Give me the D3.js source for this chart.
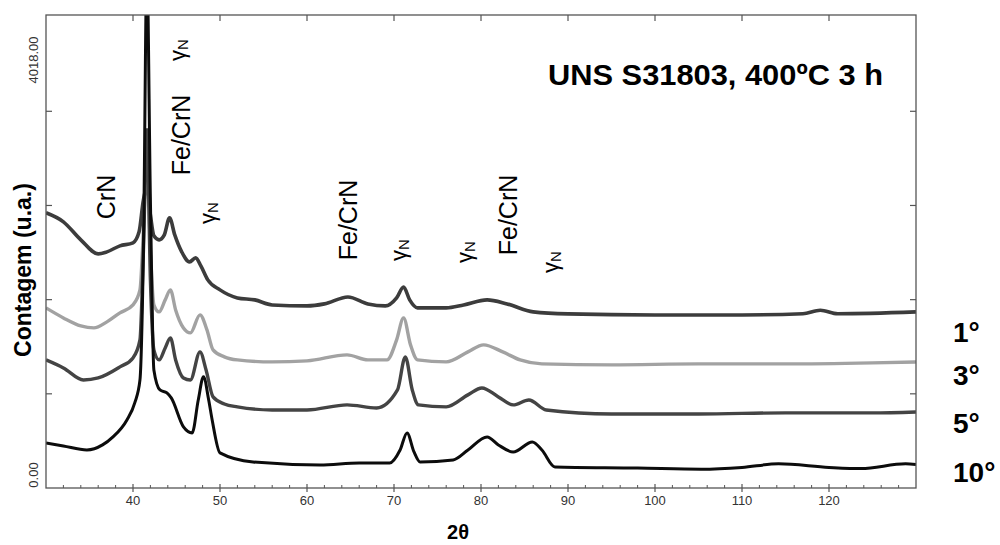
<!DOCTYPE html>
<html><head><meta charset="utf-8">
<script src="https://cdn.jsdelivr.net/npm/d3@7"></script>
<style>
html,body{margin:0;padding:0;background:#fff;}
svg{display:block;font-family:"Liberation Sans",Arial,sans-serif;}
</style></head>
<body><svg id="c" width="1000" height="545"></svg>
<script>
// ---- data (2θ, counts) ----
const deg1 = [[30,2338],[32,2261],[34,2108],[36,1989],[37,2006],[38.5,2057],[40,2083],[40.7,2176],[41.2,2448],[41.6,2550],[42.0,2320],[42.4,2142],[43.0,2108],[43.6,2150],[44.2,2295],[44.8,2150],[45.6,2006],[46.5,1921],[47.2,1955],[47.8,1887],[48.6,1768],[50,1683],[52,1615],[54,1598],[56,1555],[60,1547],[62,1564],[64.7,1623],[67,1564],[69,1547],[70.3,1615],[71.1,1708],[71.8,1598],[72.7,1530],[76,1530],[78,1555],[80.7,1598],[83,1564],[86,1496],[90,1479],[100,1470],[110,1470],[117,1480],[119,1510],[121,1480],[130,1496]];
const deg3 = [[30,1530],[32,1445],[34,1377],[35.5,1360],[37,1411],[38.5,1488],[40,1556],[40.8,1683],[41.2,2193],[41.6,2831],[42.0,2023],[42.4,1556],[43.0,1496],[43.7,1598],[44.3,1683],[44.9,1513],[45.8,1360],[46.6,1318],[47.7,1471],[48.5,1343],[49.2,1173],[50.5,1114],[52,1088],[56,1071],[60,1080],[64.6,1131],[67,1088],[69.2,1088],[70.3,1258],[71.1,1445],[71.9,1216],[72.7,1088],[76,1071],[78.5,1156],[80.3,1216],[82.5,1156],[84.5,1088],[87,1054],[95,1046],[105,1054],[115,1054],[125,1063],[130,1071]];
const deg5 = [[30,1088],[32,1020],[34.3,918],[36,935],[38.5,1029],[40,1105],[40.8,1258],[41.2,2023],[41.6,3043],[42.0,1768],[42.4,1173],[43.0,1088],[43.7,1190],[44.3,1275],[44.9,1088],[45.8,935],[46.6,918],[47.7,1156],[48.4,1003],[49.2,774],[50.5,714],[52,689],[56,663],[60,663],[64.6,706],[68,680],[70.4,833],[71.3,1114],[72.1,833],[72.8,706],[76,689],[78.5,791],[80.1,850],[82,774],[83.7,706],[85.5,748],[87.5,663],[95,629],[105,629],[115,638],[125,638],[130,646]];
const deg10 = [[30,383],[32,357],[34.7,323],[36.5,366],[37.7,434],[39.3,578],[40.2,723],[40.8,918],[41.2,2023],[41.6,4400],[42.0,2448],[42.4,1003],[43.1,833],[43.9,808],[44.4,765],[45.8,519],[46.8,468],[47.5,748],[48.1,944],[48.7,748],[49.1,578],[50,298],[53.8,221],[61.5,196],[66,213],[69.5,213],[70.7,323],[71.5,468],[72.3,306],[73,221],[76.8,238],[78.5,323],[80.7,434],[82,366],[83.7,306],[85.9,391],[87,323],[88.5,179],[98,170],[105.3,160],[110,175],[114.2,205],[120,175],[123.7,165],[128.8,205],[130,200]];
const seriesNames = ["1°","3°","5°","10°"];
const xMajorTicks = [40,50,60,70,80,90,100,110,120];
const xMinorTicks = d3.range(32,130,2);
const yTicks = [800,1600,2400,3200];
const yEndLabels = ["0.00","4018.00"];
const title = "UNS S31803, 400ºC 3 h";
const xLabel = "2θ";
const yLabel = "Contagem (u.a.)";
const peakLabels = [
  {t:"CrN", g:false},{t:"Fe/CrN", g:false},{t:"γ", g:true},{t:"γ", g:true},
  {t:"Fe/CrN", g:false},{t:"γ", g:true},{t:"γ", g:true},{t:"Fe/CrN", g:false},{t:"γ", g:true}
];

// ---- layout ----
const L=46, R=916, T=15, B=488;
const svg = d3.select("#c");
const x = d3.scaleLinear().domain([30,130]).range([L,R]);
const y = d3.scaleLinear().domain([0,4018]).range([B,T]);

svg.append("defs").append("clipPath").attr("id","clip")
  .append("rect").attr("x",L).attr("y",T).attr("width",R-L).attr("height",B-T);

const line = d3.line().x(d=>x(d[0])).y(d=>y(d[1])).curve(d3.curveMonotoneX);
const styles = [
  {data:deg1, color:"#3c3c3c", w:3.6},
  {data:deg3, color:"#a2a2a2", w:3.4},
  {data:deg5, color:"#444444", w:3.4},
  {data:deg10, color:"#0c0c0c", w:3.0}
];
const g = svg.append("g").attr("clip-path","url(#clip)");
styles.forEach(s=>{
  g.append("path").attr("d",line(s.data)).attr("fill","none")
   .attr("stroke",s.color).attr("stroke-width",s.w).attr("stroke-linejoin","round");
});

// frame
const axisColor="#555";
svg.append("rect").attr("x",L).attr("y",T).attr("width",R-L).attr("height",B-T)
  .attr("fill","none").attr("stroke",axisColor).attr("stroke-width",1.3);

// bottom ticks
svg.append("g").selectAll("line").data(xMinorTicks.filter(v=>v%10!==0)).join("line")
  .attr("x1",d=>x(d)).attr("x2",d=>x(d)).attr("y1",B-3).attr("y2",B)
  .attr("stroke",axisColor).attr("stroke-width",1);
svg.append("g").selectAll("line").data(xMajorTicks).join("line")
  .attr("x1",d=>x(d)).attr("x2",d=>x(d)).attr("y1",B-4).attr("y2",B+4)
  .attr("stroke",axisColor).attr("stroke-width",1.2);
svg.append("g").selectAll("text").data(xMajorTicks).join("text")
  .attr("x",d=>x(d)).attr("y",B+17).attr("text-anchor","middle")
  .attr("font-size",13).attr("fill","#333").text(d=>d);
// top ticks
svg.append("g").selectAll("line").data(xMajorTicks).join("line")
  .attr("x1",d=>x(d)).attr("x2",d=>x(d)).attr("y1",T).attr("y2",T+6)
  .attr("stroke",axisColor).attr("stroke-width",1.2);
// left / right ticks
svg.append("g").selectAll("line").data(yTicks).join("line")
  .attr("x1",L).attr("x2",L+6).attr("y1",d=>y(d)).attr("y2",d=>y(d))
  .attr("stroke",axisColor).attr("stroke-width",1.2);
svg.append("g").selectAll("line").data(yTicks).join("line")
  .attr("x1",R-6).attr("x2",R).attr("y1",d=>y(d)).attr("y2",d=>y(d))
  .attr("stroke",axisColor).attr("stroke-width",1.2);
// y end labels
svg.append("text").attr("transform",`translate(38,${B-13}) rotate(-90)`)
  .attr("text-anchor","middle").attr("font-size",13).attr("fill","#333").text(yEndLabels[0]);
svg.append("text").attr("transform",`translate(38,60) rotate(-90)`)
  .attr("text-anchor","middle").attr("font-size",13).attr("fill","#333").text(yEndLabels[1]);

// axis titles
svg.append("text").attr("transform","translate(31,270) rotate(-90)")
  .attr("text-anchor","middle").attr("font-size",23).attr("font-weight","bold").text(yLabel);
svg.append("text").attr("x",458).attr("y",539).attr("text-anchor","middle")
  .attr("font-size",20).attr("font-weight","bold").text(xLabel);

// title
svg.append("text").attr("x",548).attr("y",85).attr("font-size",30)
  .attr("font-weight","bold").attr("textLength",335).attr("lengthAdjust","spacingAndGlyphs").text(title);

// series labels
const serY = [342,385,433,482];
svg.append("g").selectAll("text").data(seriesNames).join("text")
  .attr("x",953).attr("y",(d,i)=>serY[i]).attr("font-size",28).attr("font-weight","bold").text(d=>d);

// peak annotations (pixel centers)
const annPos = [[107,197],[182,135],[180,50],[210,213],[349,220],[401,250],[467,252],[509,215],[553,262]];
peakLabels.forEach((p,i)=>{
  const [cx,cy]=annPos[i];
  const t = svg.append("text").attr("text-anchor","middle");
  if(!p.g){
    t.attr("transform",`translate(${cx+8},${cy}) rotate(-90)`).attr("font-size",25).text(p.t);
  } else {
    t.attr("transform",`translate(${cx+5},${cy}) rotate(-90)`).attr("font-size",22);
    t.append("tspan").text("γ");
    t.append("tspan").attr("font-size",15).attr("dy",3).text("N");
  }
});
</script></body></html>
